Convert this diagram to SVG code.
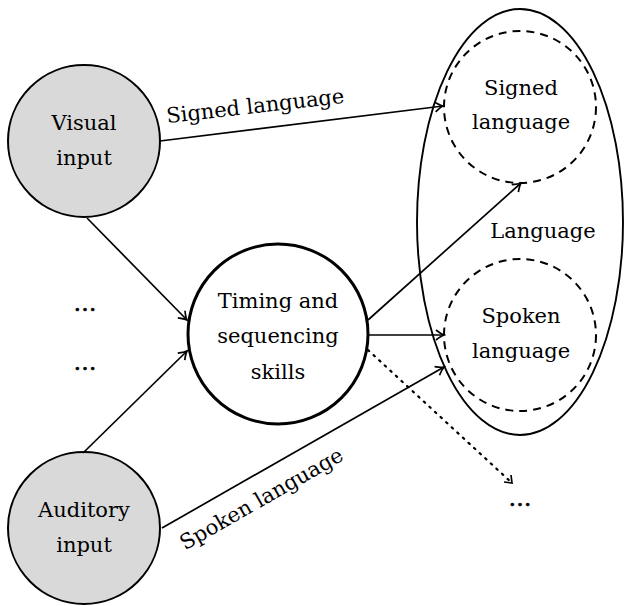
<svg xmlns="http://www.w3.org/2000/svg" width="624" height="606" viewBox="0 0 624 606">
<style>
text{font-family:"DejaVu Serif","Liberation Serif",serif;font-size:21px;fill:#000;text-anchor:middle}
.ell{font-size:23px;stroke:#000;stroke-width:0.6}
.input{fill:#d9d9d9;stroke:#000;stroke-width:2}
.dash{fill:none;stroke:#000;stroke-width:2;stroke-dasharray:8 6}
.conn{fill:none;stroke:#000;stroke-width:1.7}
.dot{stroke-dasharray:1.6 6;stroke-linecap:round;stroke-width:2.2}
</style>
<defs>
<marker id="arr" viewBox="-10 -6 12 12" markerWidth="12" markerHeight="12" refX="0" refY="0" orient="auto" markerUnits="userSpaceOnUse">
<path d="M-8,-5 Q-3,-1 0,0 Q-3,1 -8,5" fill="none" stroke="#000" stroke-width="1.7"/>
</marker>
</defs>
<g id="language">
<ellipse cx="520" cy="222" rx="103" ry="213" fill="none" stroke="#000" stroke-width="1.9"/>
<text x="543" y="238">Language</text>
</g>
<g id="signed">
<circle cx="520" cy="107" r="76" class="dash"/>
<text x="521" y="95">Signed</text>
<text x="521" y="129">language</text>
</g>
<g id="spoken">
<circle cx="520" cy="335" r="76" class="dash"/>
<text x="521" y="323">Spoken</text>
<text x="521" y="358">language</text>
</g>
<g id="visual">
<circle cx="84" cy="141" r="76" class="input"/>
<text x="84" y="130">Visual</text>
<text x="84" y="165">input</text>
</g>
<g id="auditory">
<circle cx="84" cy="528" r="76" class="input"/>
<text x="84" y="517">Auditory</text>
<text x="84" y="552">input</text>
</g>
<g id="timing">
<circle cx="278" cy="334" r="90" fill="#fff" stroke="#000" stroke-width="3"/>
<text x="278" y="308">Timing and</text>
<text x="278" y="343">sequencing</text>
<text x="278" y="379">skills</text>
</g>
<g id="dots">
<text class="ell" x="85" y="311">…</text>
<text class="ell" x="85" y="370">…</text>
<text class="ell" x="520" y="506">…</text>
</g>
<g id="connectors">
<line x1="160" y1="141" x2="443" y2="106" class="conn" marker-end="url(#arr)"/>
<line x1="87" y1="218" x2="187" y2="320" class="conn" marker-end="url(#arr)"/>
<line x1="83" y1="453" x2="187" y2="351" class="conn" marker-end="url(#arr)"/>
<line x1="162" y1="528" x2="444" y2="367" class="conn" marker-end="url(#arr)"/>
<line x1="368" y1="320" x2="521" y2="183" class="conn" marker-end="url(#arr)"/>
<line x1="368" y1="335" x2="444" y2="335" class="conn" marker-end="url(#arr)"/>
<line x1="368" y1="350" x2="512" y2="483" class="conn dot"/>
<path d="M504,482 L512,483 L511,475" fill="none" stroke="#000" stroke-width="1.7"/>
<text transform="translate(256,113) rotate(-6.5)" x="0" y="0">Signed language</text>
<text transform="translate(265,505) rotate(-29.7)" x="0" y="0">Spoken language</text>
</g>
</svg>
